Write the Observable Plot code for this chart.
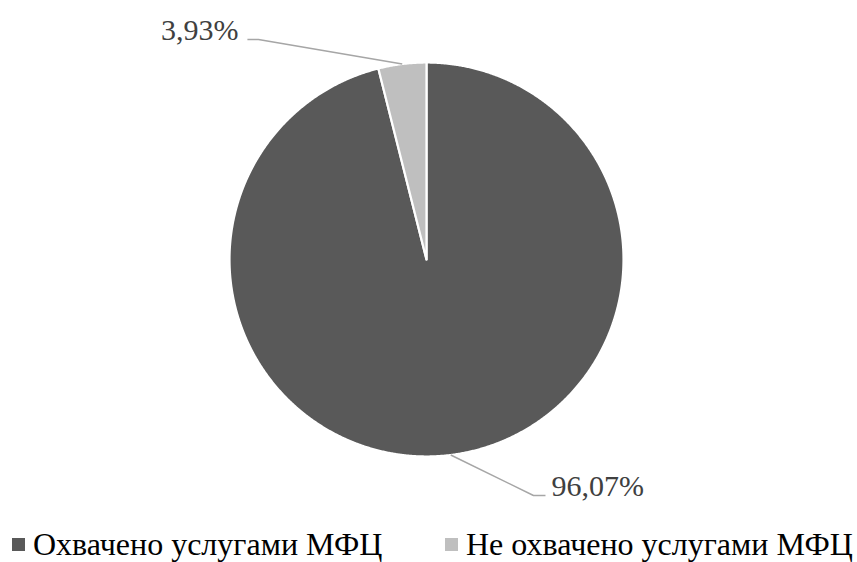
<!DOCTYPE html>
<html><head><meta charset="utf-8">
<script src="https://cdn.jsdelivr.net/npm/d3@7"></script>
<script src="https://cdn.jsdelivr.net/npm/@observablehq/plot@0.6"></script>
<style>
body{margin:0;background:#fff;font-family:"Liberation Serif","Times New Roman",serif;overflow:hidden}
#legend{position:relative;width:857px;height:42px;}
.item{position:absolute;top:8px;display:flex;align-items:center;font-size:32px;color:#000;white-space:nowrap;line-height:32px;height:32px}
.sw{width:13px;height:13px;margin-right:8px;flex:none}
</style></head><body>
<div id="chart"></div><div id="legend"></div>
<script>
// ---- data ----
const categories = ["Охвачено услугами МФЦ", "Не охвачено услугами МФЦ"];
const values = [96.07, 3.93];
const valueLabels = ["96,07%", "3,93%"];
const colors = ["#595959", "#bfbfbf"];

// ---- layout ----
const W = 857, H = 520, CX = 426, CY = 259, R = 197;
// label elbow / end offsets in radius units (layout only)
const labelLayout = [
  {elbow: [0.543, -1.198], end: [0.604, -1.198], text: [0.635, -1.152], anchor: "start"},
  {elbow: [-0.853, 1.117], end: [-0.909, 1.117], text: [-0.954, 1.162], anchor: "end"}
];
const legendLeft = [12, 445];

const table = categories.map((c, i) => ({name: c, value: values[i], label: valueLabels[i]}));
const arcs = d3.pie().sort(null).value(d => d.value)(table);

// slice polygons
const slicePts = [];
arcs.forEach(a => {
  const n = Math.max(2, Math.ceil((a.endAngle - a.startAngle) / 0.005));
  slicePts.push({name: a.data.name, x: 0, y: 0});
  for (let k = 0; k <= n; k++) {
    const t = a.startAngle + (a.endAngle - a.startAngle) * k / n;
    slicePts.push({name: a.data.name, x: Math.sin(t), y: Math.cos(t)});
  }
  slicePts.push({name: a.data.name, x: 0, y: 0});
});

// leader lines
const leaderPts = [];
const textRows = [];
arcs.forEach((a, i) => {
  const m = (a.startAngle + a.endAngle) / 2;
  const L = labelLayout[i];
  leaderPts.push({id: i, x: Math.sin(m), y: Math.cos(m)});
  leaderPts.push({id: i, x: L.elbow[0], y: L.elbow[1]});
  leaderPts.push({id: i, x: L.end[0], y: L.end[1]});
  textRows.push({x: L.text[0], y: L.text[1], label: a.data.label, anchor: L.anchor});
});

const chart = Plot.plot({
  width: W, height: H,
  marginTop: 0, marginRight: 0, marginBottom: 0, marginLeft: 0,
  x: {domain: [-CX / R, (W - CX) / R], range: [0, W], axis: null},
  y: {domain: [-(H - CY) / R, CY / R], range: [H, 0], axis: null},
  color: {domain: categories, range: colors},
  style: {fontFamily: "'Liberation Serif','Times New Roman',serif", background: "#fff"},
  marks: [
    Plot.line(slicePts, {x: "x", y: "y", z: "name", fill: "name", stroke: "white", strokeWidth: 2.2, curve: "linear"}),
    Plot.line(leaderPts, {x: "x", y: "y", z: "id", stroke: "#a6a6a6", strokeWidth: 1.5, curve: "linear", strokeLinecap: "butt"}),
    Plot.text(textRows.filter(d => d.anchor === "start"), {x: "x", y: "y", text: "label", textAnchor: "start", fontSize: 30, fill: "#404040"}),
    Plot.text(textRows.filter(d => d.anchor === "end"), {x: "x", y: "y", text: "label", textAnchor: "end", fontSize: 30, fill: "#404040"})
  ]
});
document.getElementById("chart").appendChild(chart);

const leg = document.getElementById("legend");
categories.forEach((c, i) => {
  const it = document.createElement("div");
  it.className = "item";
  it.style.left = legendLeft[i] + "px";
  const sw = document.createElement("span");
  sw.className = "sw";
  sw.style.background = colors[i];
  const tx = document.createElement("span");
  tx.textContent = c;
  it.appendChild(sw); it.appendChild(tx);
  leg.appendChild(it);
});
</script>
</body></html>
